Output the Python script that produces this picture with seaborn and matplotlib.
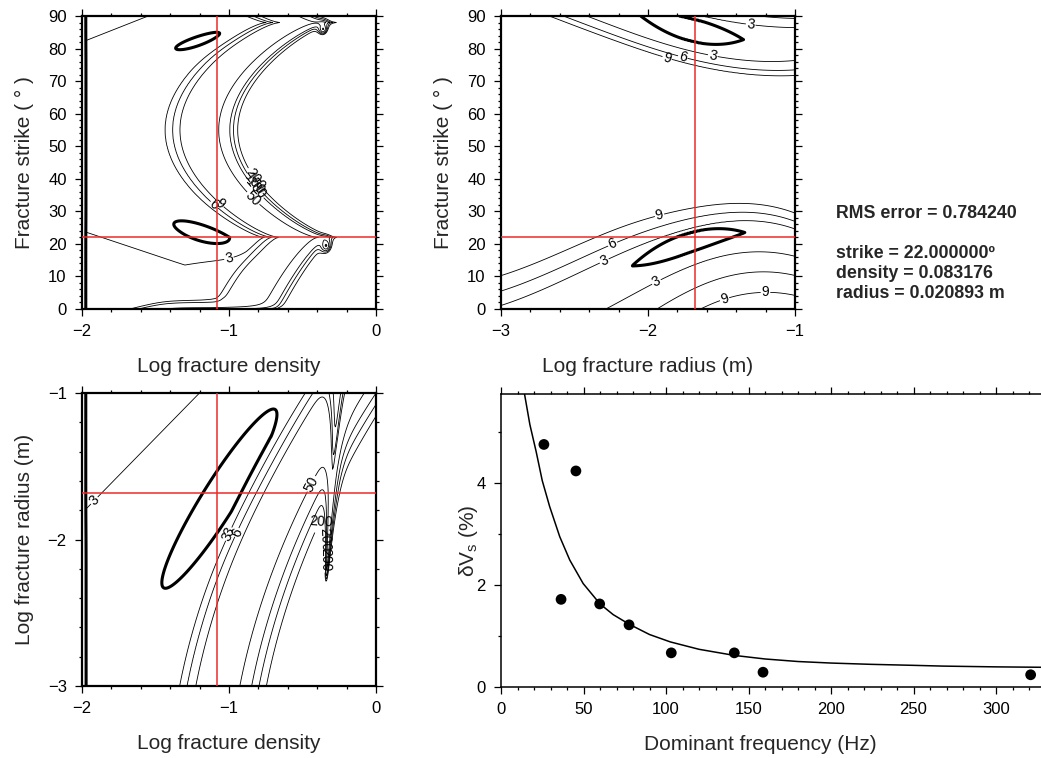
import numpy as np
import pandas as pd
import matplotlib
matplotlib.use("Agg")
import matplotlib.pyplot as plt
from matplotlib.ticker import MultipleLocator
import seaborn as sns

sns.set_theme(style="ticks")
plt.rcParams["font.family"] = ["Liberation Sans", "DejaVu Sans"]
plt.rcParams["axes.unicode_minus"] = True

# ---- best-fit crack model
best_strike = 22.0            # degrees
best_density = 0.083176
best_radius = 0.020893        # m
rms_error = 0.784240

# ---- observed shear-wave anisotropy versus dominant frequency
freq_hz = [26.0, 36.4, 45.4, 59.8, 77.6, 103.2, 141.4, 158.8, 321.0]
dvs_pct = [4.76, 1.72, 4.24, 1.63, 1.22, 0.67, 0.67, 0.29, 0.24]

# ---- prediction of the best-fit model
model_freq = [14.2, 17.5, 21.3, 25.0, 29.5, 35.6, 41.7, 49.8, 60.0, 68.0, 77.8,
              90.0, 102.6, 120.0, 141.4, 160.0, 180.0, 200.0, 224.0, 250.0,
              268.0, 300.0, 335.0]
model_dvs = [5.76, 5.15, 4.62, 4.05, 3.54, 2.95, 2.49, 2.03, 1.63, 1.42, 1.23,
             1.03, 0.885, 0.74, 0.62, 0.55, 0.50, 0.47, 0.445, 0.425,
             0.41, 0.395, 0.385]

# ---- misfit contour levels
thin_levels = [3, 6, 9, 50, 100, 150, 200]
thick_levels = [1]

# ---- parameter grids
log_density = np.linspace(-2, 0, 401)
log_radius = np.linspace(-3, -1, 401)
strike = np.linspace(0, 90, 361)

RED = "#ec2b2b"
TICK_FS = 12
LABEL_FS = 15
CLABEL_FS = 10


def sig(z):
    return 0.5 * (1 + np.tanh(z / 2))


def logprofile(d, nodes, values):
    return np.exp(np.interp(d, nodes, np.log(values)))


def misfit_density_strike():
    X, S = np.meshgrid(log_density, strike)
    h = np.where(S >= 22,
                 np.abs(np.sin(np.pi * (S - 22) / 66)) ** 0.7,
                 0.55 * np.clip((22 - S) / 22, 0, None) ** 0.7)
    d = X - (-0.40 - 0.67 * h)
    wall = logprofile(d, [-0.8, -0.364, -0.314, -0.264, 0.0, 0.076, 0.10, 0.129, 0.4],
                      [0.005, 1.1, 4.1, 7.1, 48, 98, 148, 198, 2000])
    s_low = np.interp(X, [-2, -1.3, -0.85, 0], [24, 13.5, 17, 17])
    s_high = 82 + 17.8 * (X + 2)
    back = 1.9 + 2.2 * sig((s_low - S) / 2.0) + 2.2 * sig((S - s_high) / 2.0)
    for xc, sc, slope, a, b in [(-1.13, 22.5, -14.4, 0.44, 5.5),
                                (-1.13, 83.0, 12.8, 0.44, 3.8)]:
        u = X - xc
        v = S - sc - slope * u
        back = back - 1.25 * np.exp(-(u / a) ** 2 - (v / b) ** 2)
    F = back + wall
    F = F + 80 * np.exp(-S / 0.7) * sig((X + 1.45) / 0.06)
    for xc, sc in [(-0.36, 86.0), (-0.34, 19.5)]:
        F = F * (1 - 0.98 * np.exp(-((X - xc) / 0.04) ** 2 - ((S - sc) / 2.5) ** 2))
    F = np.where(X < -1.97, 0.5, F)
    return X, S, F


def misfit_radius_strike():
    X, S = np.meshgrid(log_radius, strike)
    c_lo = np.polyval(np.polyfit([-3, -2.5, -2.12, -1.72, -1.34, -1.0],
                                 [-5, 4, 13.5, 20.5, 23, 21.5], 3), X)
    w_lo = 1 + 0.9 * sig(-(X + 2.0) / 0.25)
    q = ((X + 1.72) / 0.38) ** 2
    fmin_lo = np.where(X > -1.72, 0.22 * q, 0.6 * np.tanh(0.367 * q))
    f_lo = fmin_lo + logprofile((S - c_lo) / w_lo,
                                [-25, -18, -12, -6, -2.5, 0, 2.5, 3.5, 6, 8.5, 20],
                                [14, 9, 6, 3, 1.0, 0.78, 1.0, 3, 6, 9, 40])
    c_up = np.polyval(np.polyfit([-3, -2.69, -2.46, -2.2, -1.7, -1.35, -1.0],
                                 [106, 100.5, 96.5, 92.7, 85.8, 82.5, 82.0], 3), X)
    q = ((X + 1.7) / 0.35) ** 2
    fmin_up = np.where(X > -1.7, 0.22 * q, 0.6 * np.tanh(0.367 * q))
    f_up = fmin_up + logprofile(S - c_up,
                                [-20, -10.5, -9, -6.5, -3.5, 0, 3.5, 5, 8, 10, 20],
                                [25, 9, 6, 3, 1.0, 0.78, 1.0, 3, 6, 9, 40])
    F = np.minimum(f_lo, f_up)
    F = 45 * np.tanh(F / 45)
    return X, S, F


def misfit_density_radius():
    X, Y = np.meshgrid(log_density, log_radius)
    t = Y + 3
    e = X - (-1.376 + 0.195 * t + 0.114 * t ** 2)
    R = logprofile(e, [-1.6, 0.0, 0.04, 0.09, 0.15, 0.45, 0.53, 0.58, 0.63, 0.9],
                   [1.4, 1.4, 3, 6, 9, 50, 100, 150, 200, 600])
    ux, uy = 0.528, 0.849
    a = (X + 1.065) * ux + (Y + 1.72) * uy
    p = (X + 1.065) * uy - (Y + 1.72) * ux
    F = R * (1 - 0.5 * np.exp(-(a / 0.96) ** 2 - (p / 0.155) ** 2))
    x_left = -1.19 + 0.975 * (Y + 1)
    F = F + 3.0 * sig((x_left - X) / 0.08)
    xt = -0.34 + 0.06 * (Y + 2.3)
    wt = 0.012 + 0.05 * np.clip(Y + 2.3, 0, None)
    F = F * (1 - 0.92 * np.exp(-((X - xt) / wt) ** 2) * sig((Y + 2.3) / 0.03))
    F = np.where(X < -1.97, 0.5, F)
    return X, Y, F


def draw_misfit(ax, X, Y, F, label_pos):
    cs = ax.contour(X, Y, F, levels=thin_levels, colors="black", linewidths=0.6)
    ax.contour(X, Y, F, levels=thick_levels, colors="black", linewidths=2.2)
    ax.clabel(cs, manual=label_pos, inline=True, fmt="%d",
              fontsize=CLABEL_FS, inline_spacing=1)


def frame(ax, lw=1.6):
    for sp in ax.spines.values():
        sp.set_linewidth(lw)
        sp.set_color("black")
    ax.tick_params(which="both", direction="out", top=True, right=True,
                   colors="black", labelsize=TICK_FS, width=0.9)
    ax.tick_params(which="major", length=5, pad=6)
    ax.tick_params(which="minor", length=2.5)
    ax.tick_params(labeltop=False, labelright=False)


W, H = 1041, 758
fig = plt.figure(figsize=(W / 100, H / 100), dpi=100)


def axes_px(left, top, width, height):
    return fig.add_axes([left / W, 1 - (top + height) / H, width / W, height / H])


ax1 = axes_px(82, 16, 294, 293)
ax2 = axes_px(501, 16, 294, 293)
ax3 = axes_px(82, 393, 294, 293)
ax4 = axes_px(501, 394, 553, 293)

best_logd = np.log10(best_density)
best_logr = np.log10(best_radius)

# ---- strike versus fracture density
X, S, F = misfit_density_strike()
draw_misfit(ax1, X, S, F, [(-1.0, 15.5), (-1.11, 31.5), (-1.05, 33.0),
                           (-0.836, 34.0), (-0.822, 37.0), (-0.826, 38.5),
                           (-0.822, 40.0)])
ax1.axvline(best_logd, color=RED, lw=1.1, zorder=5)
ax1.axhline(best_strike, color=RED, lw=1.1, zorder=5)
ax1.set_xlim(-2, 0)
ax1.set_ylim(0, 90)
ax1.xaxis.set_major_locator(MultipleLocator(1))
ax1.xaxis.set_minor_locator(MultipleLocator(0.2))
ax1.yaxis.set_major_locator(MultipleLocator(10))
ax1.yaxis.set_minor_locator(MultipleLocator(2))
ax1.set_xlabel("Log fracture density", fontsize=LABEL_FS)
ax1.set_ylabel("Fracture strike ( ° )", fontsize=LABEL_FS)

# ---- strike versus fracture radius
X, S, F = misfit_radius_strike()
draw_misfit(ax2, X, S, F, [(-1.92, 28.5), (-2.25, 20.9), (-2.3, 15.0),
                           (-1.95, 9.0), (-1.5, 6.0), (-1.2, 2.0),
                           (-1.88, 76.0), (-1.76, 78.0), (-1.55, 80.5), (-1.3, 88.0)])
ax2.axvline(best_logr, color=RED, lw=1.1, zorder=5)
ax2.axhline(best_strike, color=RED, lw=1.1, zorder=5)
ax2.set_xlim(-3, -1)
ax2.set_ylim(0, 90)
ax2.xaxis.set_major_locator(MultipleLocator(1))
ax2.xaxis.set_minor_locator(MultipleLocator(0.2))
ax2.yaxis.set_major_locator(MultipleLocator(10))
ax2.yaxis.set_minor_locator(MultipleLocator(2))
ax2.set_xlabel("Log fracture radius (m)", fontsize=LABEL_FS)
ax2.set_ylabel("Fracture strike ( ° )", fontsize=LABEL_FS)

# ---- fracture radius versus fracture density
X, Y, F = misfit_density_radius()
draw_misfit(ax3, X, Y, F, [(-1.05, -1.96), (-0.99, -1.97), (-0.93, -1.96),
                           (-0.42, -1.63), (-0.38, -1.87), (-0.37, -2.0),
                           (-0.38, -2.14), (-1.9, -1.75)])
ax3.axvline(best_logd, color=RED, lw=1.1, zorder=5)
ax3.axhline(best_logr, color=RED, lw=1.1, zorder=5)
ax3.set_xlim(-2, 0)
ax3.set_ylim(-3, -1)
ax3.xaxis.set_major_locator(MultipleLocator(1))
ax3.xaxis.set_minor_locator(MultipleLocator(0.2))
ax3.yaxis.set_major_locator(MultipleLocator(1))
ax3.yaxis.set_minor_locator(MultipleLocator(0.2))
ax3.set_xlabel("Log fracture density", fontsize=LABEL_FS)
ax3.set_ylabel("Log fracture radius (m)", fontsize=LABEL_FS)

for ax in (ax1, ax2, ax3):
    frame(ax)
    ax.xaxis.set_label_coords(0.5, -0.195)
    ax.xaxis.label.set_va("center")
    ax.yaxis.set_label_coords(-0.194, 0.5)
    ax.yaxis.label.set_va("center")

# ---- anisotropy versus dominant frequency
obs = pd.DataFrame({"freq": freq_hz, "dvs": dvs_pct})
fit = pd.DataFrame({"freq": model_freq, "dvs": model_dvs})
sns.lineplot(data=fit, x="freq", y="dvs", color="black", lw=1.1, sort=False,
             estimator=None, ax=ax4)
sns.scatterplot(data=obs, x="freq", y="dvs", color="black", s=60,
                edgecolor="none", ax=ax4, zorder=3)
ax4.set_xlim(0, 553 / 1.65)
ax4.set_ylim(0, 5.75)
ax4.xaxis.set_major_locator(MultipleLocator(50))
ax4.xaxis.set_minor_locator(MultipleLocator(10))
ax4.yaxis.set_major_locator(MultipleLocator(2))
ax4.yaxis.set_minor_locator(MultipleLocator(1))
frame(ax4, lw=1.1)
ax4.set_xlabel("Dominant frequency (Hz)", fontsize=LABEL_FS)
ax4.set_ylabel("δV$_\\mathregular{s}$ (%)", fontsize=LABEL_FS)
ax4.xaxis.set_label_coords(259 / 553, -0.195)
ax4.xaxis.label.set_va("center")
ax4.yaxis.set_label_coords(-33 / 553, 0.5)
ax4.yaxis.label.set_va("center")

# ---- best-fit summary
summary_fs = 12.8
fig.text(836 / W, 1 - 213 / H, f"RMS error = {rms_error:.6f}", fontsize=summary_fs,
         fontweight="bold", va="center", ha="left")
fig.text(836 / W, 1 - 254 / H, f"strike = {best_strike:.6f}º", fontsize=summary_fs,
         fontweight="bold", va="center", ha="left")
fig.text(836 / W, 1 - 274 / H, f"density = {best_density:.6f}", fontsize=summary_fs,
         fontweight="bold", va="center", ha="left")
fig.text(836 / W, 1 - 294 / H, f"radius = {best_radius:.6f} m", fontsize=summary_fs,
         fontweight="bold", va="center", ha="left")

fig.savefig("out.png", dpi=100)
